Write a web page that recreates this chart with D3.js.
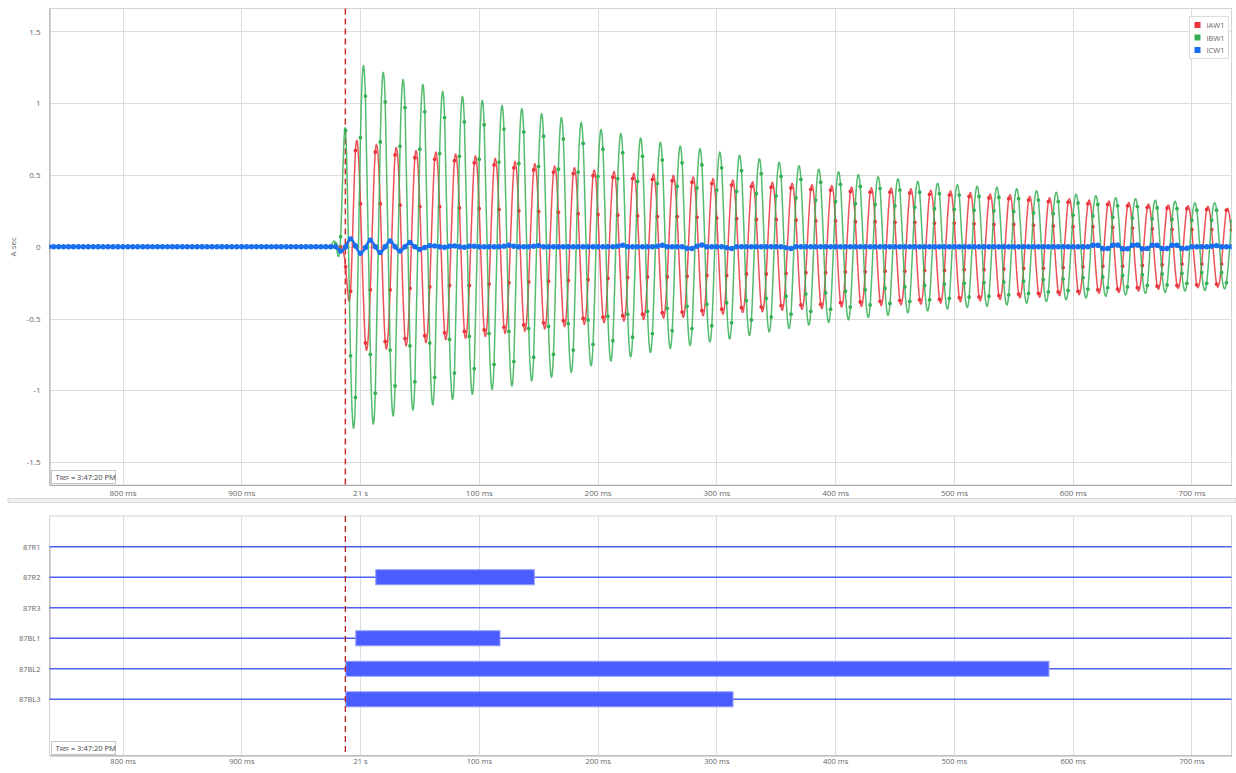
<!DOCTYPE html>
<html>
<head>
<meta charset="utf-8">
<script src="https://cdn.jsdelivr.net/npm/d3@7"></script>
<style>
  body { margin: 0; background: #fff; font-family: "Open Sans", sans-serif; }
  svg text { font-family: "Open Sans", sans-serif; }
</style>
</head>
<body>
<svg id="chart" width="1236" height="773"></svg>
<script>
// ---- data (times in ms relative to 21 s) ----
const sampleStartMs = -262.2;
const sampleStepMs = 1000 / 240; // 4 samples per 60 Hz cycle
const seriesNames = ['IAW1', 'IBW1', 'ICW1'];
const seriesColors = ['#e8343a', '#36b055', '#1a6ff0'];

// flat pre-fault samples
const preFault = [
  0,0,0,0,0,0,0,0,0,0, 0,0,0,0,0,0,0,0,0,0, 0,0,0,0,0,0,0,0,0,0,
  0,0,0,0,0,0,0,0,0,0, 0,0,0,0,0,0,0,0,0,0, 0,0,0,0,0,0,0,0
];

const iaw1 = preFault.concat([
  0, 0, -0.14, -0.31,
  0.67, 0.30, -0.67, -0.30,   0.66, 0.30, -0.66, -0.30,   0.64, 0.29, -0.64, -0.29,
  0.62, 0.28, -0.62, -0.28,   0.61, 0.28, -0.60, -0.27,   0.60, 0.27, -0.59, -0.27,
  0.585, 0.265, -0.58, -0.26, 0.57, 0.26, -0.56, -0.25,   0.55, 0.25, -0.545, -0.245,
  0.535, 0.245, -0.53, -0.24, 0.52, 0.24, -0.515, -0.235, 0.51, 0.23, -0.50, -0.23,
  0.495, 0.225, -0.49, -0.22, 0.485, 0.22, -0.48, -0.215, 0.475, 0.215, -0.47, -0.21,
  0.47, 0.21, -0.46, -0.21,   0.46, 0.21, -0.455, -0.205, 0.45, 0.205, -0.445, -0.20,
  0.44, 0.20, -0.435, -0.20,  0.43, 0.195, -0.425, -0.19, 0.42, 0.19, -0.42, -0.19,
  0.415, 0.19, -0.41, -0.185, 0.41, 0.185, -0.405, -0.18, 0.40, 0.18, -0.40, -0.18,
  0.395, 0.18, -0.39, -0.175, 0.385, 0.175, -0.385, -0.175, 0.38, 0.175, -0.38, -0.17,
  0.38, 0.17, -0.375, -0.17,  0.375, 0.17, -0.37, -0.165, 0.365, 0.165, -0.365, -0.165,
  0.36, 0.165, -0.355, -0.16, 0.35, 0.16, -0.35, -0.16,   0.34, 0.155, -0.34, -0.155,
  0.335, 0.155, -0.33, -0.15, 0.325, 0.15, -0.325, -0.15, 0.315, 0.145, -0.315, -0.145,
  0.31, 0.14, -0.31, -0.14,   0.30, 0.14, -0.30, -0.135,  0.295, 0.135, -0.295, -0.135,
  0.285, 0.13, -0.285, -0.13, 0.275, 0.125, -0.275, -0.125, 0.27, 0.12, -0.27, -0.12,
  0.265, 0.12, -0.265, -0.12, 0.26, 0.12, -0.26, -0.12,
  0.255, 0.115
]);

const ibw1 = preFault.concat([
  0.02, 0.07, 0.81, -0.76,
  -1.05, 0.76, 1.05, -0.75,   -1.02, 0.73, 1.01, -0.72,   -0.97, 0.70, 0.97, -0.69,
  -0.94, 0.68, 0.94, -0.67,   -0.91, 0.65, 0.90, -0.645,  -0.88, 0.63, 0.87, -0.625,
  -0.85, 0.61, 0.85, -0.605,  -0.82, 0.59, 0.82, -0.59,   -0.80, 0.58, 0.80, -0.57,
  -0.77, 0.56, 0.77, -0.555,  -0.75, 0.54, 0.75, -0.535,  -0.72, 0.52, 0.72, -0.51,
  -0.68, 0.49, 0.68, -0.485,  -0.655, 0.475, 0.655, -0.47, -0.63, 0.455, 0.63, -0.45,
  -0.605, 0.44, 0.605, -0.43, -0.585, 0.42, 0.585, -0.415, -0.57, 0.41, 0.57, -0.40,
  -0.55, 0.395, 0.55, -0.39,  -0.53, 0.385, 0.53, -0.375, -0.51, 0.37, 0.51, -0.36,
  -0.49, 0.355, 0.49, -0.345, -0.47, 0.34, 0.47, -0.33,   -0.45, 0.325, 0.45, -0.32,
  -0.435, 0.315, 0.435, -0.31, -0.42, 0.30, 0.42, -0.30,  -0.405, 0.295, 0.405, -0.29,
  -0.395, 0.285, 0.395, -0.28, -0.38, 0.275, 0.38, -0.27, -0.37, 0.265, 0.37, -0.26,
  -0.36, 0.26, 0.36, -0.255,  -0.35, 0.255, 0.35, -0.25,  -0.345, 0.25, 0.345, -0.245,
  -0.335, 0.245, 0.335, -0.24, -0.325, 0.235, 0.325, -0.23, -0.315, 0.23, 0.315, -0.225,
  -0.305, 0.22, 0.305, -0.215, -0.295, 0.215, 0.295, -0.21, -0.285, 0.205, 0.285, -0.20,
  -0.28, 0.20, 0.28, -0.195,  -0.27, 0.195, 0.27, -0.19,  -0.265, 0.19, 0.265, -0.185,
  -0.255, 0.185, 0.255, -0.18, -0.255, 0.185, 0.255, -0.18,
  -0.25, 0.18
]);

const icw1 = preFault.concat([
  0, -0.03, 0, 0.055,
  0.005, -0.045, -0.005, 0.045, 0, -0.04, 0, 0.04, 0, -0.03, 0, 0.03, 0, -0.018, -0.005, 0.008,
  0.006, 0, -0.004, 0.004, 0.006, 0, -0.003, 0.003, 0.004, 0, 0, 0, 0, 0, 0.004, 0.01,
  0.004, 0, 0, 0, 0.004, 0.008, 0, 0, 0, 0, 0, 0, 0, 0, 0, 0,
  0, 0, 0, 0, 0, 0.004, 0.01, 0, 0, 0, 0, 0, 0, 0.004, 0.01, 0,
  0, 0, 0, -0.01, -0.012, 0.004, 0.012, 0, 0, 0, 0, -0.006, -0.012, 0, 0, 0,
  0, 0, 0, 0, 0, 0, 0, -0.006, -0.012, 0, 0, 0, 0, 0, 0, 0,
  0, 0, 0, 0, 0, 0, 0, 0, 0, 0, 0, 0, 0, 0, 0, 0,
  0, 0, 0, 0, 0, 0, 0, 0, 0, 0, 0, 0, 0, 0, 0, 0,
  0, 0, 0, 0, 0, 0, 0, 0, 0, 0, 0, 0, 0, 0, 0, 0,
  0, 0, 0, 0, 0, 0.01, 0.01, -0.012, -0.012, 0.01, 0.012, -0.014, -0.014, 0.01, 0.012, -0.014,
  -0.012, 0.01, 0.01, -0.012, -0.012, 0.01, 0.01, -0.012, -0.01, 0, 0, 0, 0, 0.004, 0.008, 0,
  0, 0
]);

const xTickMs = [-200, -100, 0, 100, 200, 300, 400, 500, 600, 700];
const xTickLabels = ['800 ms', '900 ms', '21 s', '100 ms', '200 ms', '300 ms', '400 ms', '500 ms', '600 ms', '700 ms'];
const yTicks = [-1.5, -1, -0.5, 0, 0.5, 1, 1.5];
const triggerMs = -12.4;

const digitalChannels = ['87R1', '87R2', '87R3', '87BL1', '87BL2', '87BL3'];
const digitalOnMs = [null, 13.2, null, -3.6, -12.0, -12.0];
const digitalOffMs = [null, 146.7, null, 117.8, 580, 314];

// ---- layout ----
const svg = d3.select('#chart');
const left = 49.5, right = 1231.5;
const top1 = 8.5, bottom1 = 485;
const top2 = 516, bottom2 = 755.5;
const gridColor = '#dcdcdc';
const textColor = '#666';

const x = d3.scaleLinear().domain([-261.5, 733.7]).range([left, right]);
const y = d3.scaleLinear().domain([-1.66, 1.66]).range([bottom1, top1]);

const analog = [iaw1, ibw1, icw1].map((vals, si) => ({
  name: seriesNames[si],
  color: seriesColors[si],
  points: vals.map((v, i) => ({ t: sampleStartMs + i * sampleStepMs, v }))
}));

const defs = svg.append('defs');
defs.append('clipPath').attr('id', 'clipTop')
  .append('rect').attr('x', left).attr('y', top1).attr('width', right - left).attr('height', bottom1 - top1);

// ---- top panel ----
const gTop = svg.append('g');
gTop.append('rect').attr('x', left).attr('y', top1).attr('width', right - left).attr('height', bottom1 - top1)
  .attr('fill', '#fff').attr('stroke', '#d4d4d4');

// grid
gTop.append('g').selectAll('line').data(yTicks).join('line')
  .attr('x1', left).attr('x2', right).attr('y1', d => Math.round(y(d)) + 0.5).attr('y2', d => Math.round(y(d)) + 0.5)
  .attr('stroke', gridColor);
gTop.append('g').selectAll('line').data(xTickMs).join('line')
  .attr('y1', top1).attr('y2', bottom1).attr('x1', d => Math.round(x(d)) + 0.5).attr('x2', d => Math.round(x(d)) + 0.5)
  .attr('stroke', gridColor);

// axes
const xAxisTop = gTop.append('g').attr('transform', `translate(0,${bottom1})`)
  .call(d3.axisBottom(x).tickValues(xTickMs).tickFormat((d, i) => xTickLabels[i]).tickSize(0).tickPadding(5));
const yAxis = gTop.append('g').attr('transform', `translate(${left},0)`)
  .call(d3.axisLeft(y).tickValues(yTicks).tickFormat(d => String(d)).tickSize(0).tickPadding(9));
[xAxisTop, yAxis].forEach(a => {
  a.select('.domain').attr('stroke', '#aaa');
  a.selectAll('text').attr('fill', textColor).style('font-size', '8px');
});

gTop.append('text').attr('transform', `translate(16,${y(0)}) rotate(-90)`)
  .attr('text-anchor', 'middle').attr('fill', textColor).style('font-size', '8px').text('A sec');

// trigger line
gTop.append('line').attr('x1', x(triggerMs)).attr('x2', x(triggerMs)).attr('y1', top1).attr('y2', bottom1)
  .attr('stroke', '#d42a2a').attr('stroke-width', 1.5).attr('stroke-dasharray', '6,4');

// waveforms
const line = d3.line().x(d => x(d.t)).y(d => y(d.v)).curve(d3.curveNatural);
const plot = gTop.append('g').attr('clip-path', 'url(#clipTop)');
analog.forEach((s, si) => {
  const g = plot.append('g');
  g.append('path').datum(s.points).attr('d', line).attr('fill', 'none')
    .attr('stroke', s.color).attr('stroke-width', si === 2 ? 2.6 : 1.5).attr('stroke-opacity', si === 2 ? 1 : 0.85);
  g.selectAll('circle').data(s.points).join('circle')
    .attr('cx', d => x(d.t)).attr('cy', d => y(d.v)).attr('r', si === 2 ? 2.7 : 1.9)
    .attr('fill', s.color);
});

// legend
const lg = gTop.append('g').attr('transform', 'translate(1189.5,16.5)');
lg.append('rect').attr('width', 39).attr('height', 42).attr('fill', '#fff').attr('stroke', '#ddd');
analog.forEach((s, i) => {
  lg.append('rect').attr('x', 5).attr('y', 5.5 + i * 12.5).attr('width', 6).attr('height', 6).attr('fill', s.color);
  lg.append('text').attr('x', 17).attr('y', 11.5 + i * 12.5).attr('fill', textColor).style('font-size', '7.5px').text(s.name);
});

function trefBox(g, yTop) {
  const b = g.append('g').attr('transform', `translate(51.5,${yTop})`);
  b.append('rect').attr('width', 64).attr('height', 13).attr('fill', '#fff').attr('stroke', '#c8c8c8');
  const t = b.append('text').attr('x', 4).attr('y', 9.5).attr('fill', '#444').style('font-size', '7.5px');
  t.append('tspan').text('T');
  t.append('tspan').style('font-size', '5.5px').text('REF');
  t.append('tspan').text(' = 3:47:20 PM');
}
trefBox(gTop, 470.5);

// separator
svg.append('rect').attr('x', 8).attr('y', 498.5).attr('width', 1228).attr('height', 4)
  .attr('fill', '#f2f2f2').attr('stroke', '#d8d8d8');

// ---- bottom panel ----
const gBot = svg.append('g');
const rowY = d3.scalePoint().domain(digitalChannels).range([546.7, 699.3]);
gBot.append('rect').attr('x', left).attr('y', top2).attr('width', right - left).attr('height', bottom2 - top2)
  .attr('fill', '#fff').attr('stroke', '#d4d4d4');
gBot.append('g').selectAll('line').data(xTickMs).join('line')
  .attr('y1', top2).attr('y2', bottom2).attr('x1', d => Math.round(x(d)) + 0.5).attr('x2', d => Math.round(x(d)) + 0.5)
  .attr('stroke', gridColor);

const xAxisBot = gBot.append('g').attr('transform', `translate(0,${bottom2})`)
  .call(d3.axisBottom(x).tickValues(xTickMs).tickFormat((d, i) => xTickLabels[i]).tickSize(0).tickPadding(3));
const rowAxis = gBot.append('g').attr('transform', `translate(${left},0)`)
  .call(d3.axisLeft(rowY).tickSize(0).tickPadding(9));
[xAxisBot, rowAxis].forEach(a => {
  a.select('.domain').attr('stroke', '#aaa');
  a.selectAll('text').attr('fill', textColor).style('font-size', '7.5px');
});

gBot.append('g').selectAll('line').data(digitalChannels).join('line')
  .attr('x1', left).attr('x2', right).attr('y1', d => rowY(d)).attr('y2', d => rowY(d))
  .attr('stroke', '#4f5ff0').attr('stroke-width', 1.6);

const bars = digitalChannels.map((c, i) => ({ c, on: digitalOnMs[i], off: digitalOffMs[i] })).filter(d => d.on !== null);
gBot.append('g').selectAll('rect').data(bars).join('rect')
  .attr('x', d => x(d.on)).attr('width', d => x(d.off) - x(d.on))
  .attr('y', d => rowY(d.c) - 7.5).attr('height', 15)
  .attr('fill', '#4c5dff').attr('stroke', '#8f9bff').attr('stroke-width', 1);

gBot.append('line').attr('x1', x(triggerMs)).attr('x2', x(triggerMs)).attr('y1', top2).attr('y2', bottom2)
  .attr('stroke', '#b01e1e').attr('stroke-width', 1.3).attr('stroke-dasharray', '6,4');

trefBox(gBot, 741.5);
</script>
</body>
</html>
